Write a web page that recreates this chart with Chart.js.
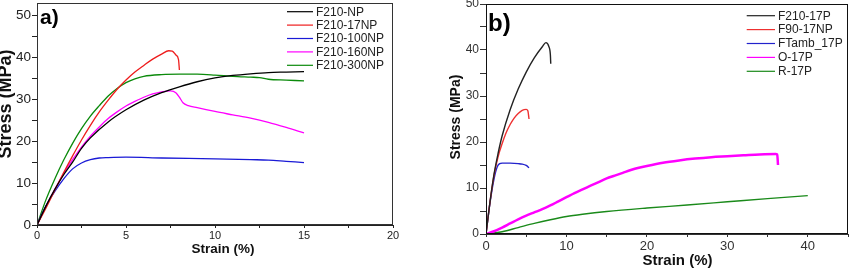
<!DOCTYPE html>
<html lang="en">
<head>
<meta charset="UTF-8">
<title>Stress-strain curves</title>
<script src="https://cdn.jsdelivr.net/npm/chart.js"></script>
<style>
  body { margin: 0; background: #fff; width: 861px; height: 268px; overflow: hidden; position: relative; }
  .panel { position: absolute; top: 0; }
  #panelA { left: 0; }
  #panelB { left: 440px; }
</style>
</head>
<body>
<div class="panel" id="panelA"><canvas id="chartA" width="420" height="268"></canvas></div>
<div class="panel" id="panelB"><canvas id="chartB" width="421" height="268"></canvas></div>
<script>
// ---- panel a) ----
const labelsA = ['F210-NP', 'F210-17NP', 'F210-100NP', 'F210-160NP', 'F210-300NP'];
const colorsA = ['#000000', '#ee1c1c', '#1a1ad6', '#ff00ff', '#0b8a0b'];

const strainA_NP = [0, 0.5, 1, 1.5, 2, 2.5, 3, 4, 5, 6, 7, 8, 9, 10, 11, 12, 13, 14, 15];
const stressA_NP = [0, 4.5, 8.5, 12, 15, 18.3, 20.8, 24.6, 27.5, 29.8, 31.6, 33, 34.2, 35.1, 35.7, 36.1, 36.4, 36.5, 36.6];

const strainA_17NP = [0, 0.5, 1, 1.5, 2, 2.5, 3, 3.5, 4, 4.5, 5, 5.5, 6, 6.5, 7, 7.4, 7.6, 7.8, 7.95, 8.0];
const stressA_17NP = [0, 4, 8.3, 12.5, 16.5, 20.3, 23.8, 27, 29.8, 32.4, 34.6, 36.5, 38.1, 39.6, 40.8, 41.6, 41.5, 40.6, 39.5, 37];

const strainA_100NP = [0, 0.5, 1, 1.5, 2, 2.5, 3, 3.5, 4, 5, 7, 10, 12, 13, 14, 15];
const stressA_100NP = [0, 4.5, 8, 11, 13.4, 14.8, 15.6, 16, 16.1, 16.2, 16, 15.8, 15.6, 15.5, 15.2, 14.9];

const strainA_160NP = [0, 0.5, 1, 1.5, 2, 2.5, 3, 3.5, 4, 4.5, 5, 5.5, 6, 6.5, 7, 7.5, 7.8, 8, 8.2, 8.5, 9, 10, 11, 12, 13, 14, 15];
const stressA_160NP = [0, 4.5, 8.5, 12.3, 15.6, 18.6, 21.2, 23.4, 25.4, 27, 28.4, 29.5, 30.5, 31.3, 31.8, 32, 31.6, 30.5, 29.2, 28.5, 28, 27.1, 26.3, 25.5, 24.5, 23.3, 22];

const strainA_300NP = [0, 0.5, 1, 1.5, 2, 2.5, 3, 3.5, 4, 4.5, 5, 5.5, 6, 7, 8, 9, 10, 11, 12, 12.5, 13, 14, 15];
const stressA_300NP = [0, 6, 11, 15.5, 19.5, 23, 26, 28.5, 30.8, 32.6, 34, 34.9, 35.5, 35.9, 36, 36, 35.8, 35.5, 35.3, 35.2, 34.8, 34.6, 34.4];

// ---- panel b) ----
const labelsB = ['F210-17P', 'F90-17NP', 'FTamb_17P', 'O-17P', 'R-17P'];
const colorsB = ['#222222', '#ee3030', '#2222cc', '#ff00ff', '#1a8a1a'];

const strainB_F210 = [0, 0.5, 1, 1.5, 2, 3, 4, 5, 6, 7, 7.45, 7.8, 8, 8.05];
const stressB_F210 = [0, 7, 13, 17.5, 21.3, 27, 31.5, 35.2, 38.3, 40.7, 41.6, 40.8, 39, 37];

const strainB_F90 = [0, 0.5, 1, 1.5, 2, 2.5, 3, 3.5, 4, 4.5, 5, 5.2, 5.35];
const stressB_F90 = [0, 7, 12.8, 16.8, 19.6, 22, 23.8, 25.2, 26.2, 26.9, 27.1, 26.8, 25];

const strainB_FTamb = [0, 0.5, 1, 1.4, 1.7, 2, 3, 4, 4.5, 5, 5.35];
const stressB_FTamb = [0, 6.8, 12, 14.6, 15.3, 15.4, 15.4, 15.3, 15.2, 14.9, 14.4];

const strainB_O = [0, 1, 2, 3, 4, 5, 6, 7, 8, 9, 10, 11, 12, 13, 14, 15, 16, 17, 18, 19, 20, 22, 24, 26, 28, 30, 32, 34, 36, 36.2, 36.3];
const stressB_O = [0, 0.6, 1.4, 2.3, 3.2, 4.0, 4.7, 5.4, 6.2, 7.1, 8, 8.9, 9.7, 10.5, 11.3, 12.1, 12.7, 13.3, 13.9, 14.4, 14.8, 15.5, 16, 16.4, 16.7, 16.9, 17.1, 17.3, 17.4, 17.3, 15];

const strainB_R = [0, 2, 4, 6, 8, 10, 12, 15, 20, 25, 30, 35, 40];
const stressB_R = [0, 0.5, 1.4, 2.3, 3.1, 3.8, 4.3, 4.9, 5.65, 6.3, 7, 7.7, 8.35];

const family = "'Liberation Sans', Arial, sans-serif";

function pts(xs, ys) {
  return xs.map((x, i) => ({ x: x, y: ys[i] }));
}

function series(label, color, xs, ys, width) {
  return {
    label: label,
    data: pts(xs, ys),
    borderColor: color,
    backgroundColor: color,
    borderWidth: width || 1.3,
    pointRadius: 0,
    fill: false,
    cubicInterpolationMode: 'monotone'
  };
}

// frame, in-plot legend, panel letter and axis titles
const panelDecor = {
  id: 'panelDecor',
  afterDatasetsDraw(chart, args, opts) {
    const ctx = chart.ctx;
    const a = chart.chartArea;
    ctx.save();
    ctx.strokeStyle = opts.frameColor;
    ctx.lineWidth = 1;
    ctx.strokeRect(Math.round(a.left) + 0.5, Math.round(a.top) + 0.5,
      Math.round(a.right - a.left) - 1, Math.round(a.bottom - a.top) - 1);

    ctx.font = '12px ' + family;
    ctx.textBaseline = 'middle';
    ctx.textAlign = 'left';
    chart.data.datasets.forEach((ds, i) => {
      const y = opts.legendY + i * opts.legendStep;
      ctx.strokeStyle = ds.borderColor;
      ctx.lineWidth = 1.2;
      ctx.beginPath();
      ctx.moveTo(opts.lineX0, y);
      ctx.lineTo(opts.lineX1, y);
      ctx.stroke();
      ctx.fillStyle = '#222';
      ctx.fillText(ds.label, opts.textX, y + 0.5);
    });

    ctx.font = 'bold ' + opts.letterSize + 'px ' + family;
    ctx.textBaseline = 'alphabetic';
    ctx.fillStyle = '#000';
    ctx.fillText(opts.letter, opts.letterX, opts.letterY);

    // axis titles
    ctx.fillStyle = '#111';
    ctx.textAlign = 'center';
    ctx.textBaseline = 'middle';
    opts.titles.forEach(t => {
      ctx.save();
      ctx.translate(t.x, t.y);
      if (t.rot) ctx.rotate(-Math.PI / 2);
      ctx.font = 'bold ' + t.size + 'px ' + family;
      ctx.fillText(t.text, 0, 0);
      ctx.restore();
    });
    ctx.restore();
  }
};

function axis(o) {
  return {
    type: 'linear',
    min: o.min,
    max: o.max,
    afterFit(s) {
      if (o.width) s.width = o.width;
      if (o.height) s.height = o.height;
      s.paddingTop = 0; s.paddingBottom = 0;
      s.paddingLeft = 0; s.paddingRight = 0;
    },
    ticks: {
      stepSize: o.step,
      includeBounds: false,
      autoSkip: false,
      maxRotation: 0,
      padding: o.pad,
      color: o.color,
      font: { size: o.size, family: family },
      callback: v => (v % o.major === 0 ? v : '')
    },
    grid: { drawOnChartArea: false, tickLength: o.tick, tickColor: o.color },
    border: { color: o.color },
    title: { display: false }
  };
}

new Chart(document.getElementById('chartA'), {
  type: 'line',
  data: {
    datasets: [
      series(labelsA[0], colorsA[0], strainA_NP, stressA_NP),
      series(labelsA[1], colorsA[1], strainA_17NP, stressA_17NP),
      series(labelsA[2], colorsA[2], strainA_100NP, stressA_100NP),
      series(labelsA[3], colorsA[3], strainA_160NP, stressA_160NP),
      series(labelsA[4], colorsA[4], strainA_300NP, stressA_300NP)
    ]
  },
  options: {
    responsive: false,
    devicePixelRatio: 1,
    animation: false,
    layout: { padding: { top: 3, right: 27, left: 0, bottom: 0 } },
    scales: {
      x: axis({ min: 0, max: 20, step: 2.5, major: 5, height: 43, pad: 1, tick: 3, size: 11, color: '#222' }),
      y: axis({ min: 0, max: 53, step: 5, major: 10, width: 37, pad: 1, tick: 5, size: 13.5, color: '#222' })
    },
    plugins: {
      legend: { display: false },
      tooltip: { enabled: false },
      panelDecor: {
        frameColor: '#333', legendY: 11.7, legendStep: 13.4, lineX0: 287, lineX1: 313,
        textX: 316, letter: 'a)', letterSize: 21, letterX: 40, letterY: 23.5,
        titles: [
          { text: 'Strain (%)', x: 223, y: 249, size: 13.5 },
          { text: 'Stress (MPa)', x: 6.5, y: 104, size: 18, rot: true }
        ]
      }
    }
  },
  plugins: [panelDecor]
});

new Chart(document.getElementById('chartB'), {
  type: 'line',
  data: {
    datasets: [
      series(labelsB[0], colorsB[0], strainB_F210, stressB_F210, 1.4),
      series(labelsB[1], colorsB[1], strainB_F90, stressB_F90, 1.4),
      series(labelsB[2], colorsB[2], strainB_FTamb, stressB_FTamb, 1.4),
      series(labelsB[3], colorsB[3], strainB_O, stressB_O, 2.5),
      series(labelsB[4], colorsB[4], strainB_R, stressB_R, 1.4)
    ]
  },
  options: {
    responsive: false,
    devicePixelRatio: 1,
    animation: false,
    layout: { padding: { top: 4, right: 13, left: 0, bottom: 0 } },
    scales: {
      x: axis({ min: 0, max: 45, step: 5, major: 10, height: 34, pad: 2, tick: 3, size: 13, color: '#333' }),
      y: axis({ min: 0, max: 50, step: 5, major: 10, width: 46, pad: 1, tick: 6, size: 12, color: '#333' })
    },
    plugins: {
      legend: { display: false },
      tooltip: { enabled: false },
      panelDecor: {
        frameColor: '#111', legendY: 15.7, legendStep: 13.9, lineX0: 306.7, lineX1: 335,
        textX: 338, letter: 'b)', letterSize: 24, letterX: 48, letterY: 30.5,
        titles: [
          { text: 'Strain (%)', x: 237.5, y: 261, size: 15 },
          { text: 'Stress (MPa)', x: 16.5, y: 117, size: 14, rot: true }
        ]
      }
    }
  },
  plugins: [panelDecor]
});
</script>
</body>
</html>
